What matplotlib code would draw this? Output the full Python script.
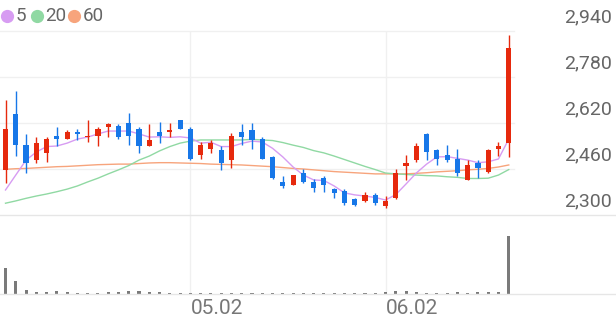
import matplotlib
matplotlib.use("Agg")
import matplotlib.pyplot as plt
import matplotlib.transforms as mtransforms
from matplotlib.lines import Line2D

plt.rcParams['font.family'] = ['Roboto', 'DejaVu Sans']

# daily candles, oldest first
opens = [2455, 2650, 2545, 2490, 2515, 2575, 2565, 2590, 2570, 2575,
         2605, 2610, 2620, 2600, 2540, 2590, 2590, 2630, 2600, 2510,
         2530, 2525, 2490, 2590, 2595, 2565, 2500, 2415, 2405, 2445,
         2415, 2430, 2390, 2385, 2355, 2350, 2370, 2330, 2360, 2470,
         2490, 2580, 2525, 2510, 2495, 2420, 2480, 2450, 2530, 2550]
highs = [2700, 2730, 2580, 2570, 2570, 2605, 2595, 2600, 2630, 2605,
         2620, 2615, 2655, 2605, 2615, 2625, 2620, 2630, 2605, 2555,
         2560, 2540, 2585, 2615, 2620, 2570, 2505, 2435, 2440, 2460,
         2425, 2435, 2395, 2390, 2360, 2380, 2375, 2365, 2460, 2510,
         2550, 2585, 2530, 2545, 2530, 2490, 2490, 2530, 2555, 2925]
lows = [2410, 2505, 2445, 2480, 2485, 2540, 2565, 2560, 2555, 2540,
        2570, 2565, 2545, 2515, 2540, 2550, 2570, 2600, 2490, 2495,
        2515, 2455, 2465, 2545, 2530, 2495, 2425, 2395, 2405, 2410,
        2380, 2380, 2360, 2335, 2330, 2345, 2335, 2325, 2355, 2420,
        2485, 2490, 2475, 2485, 2435, 2420, 2430, 2445, 2505, 2500]
closes = [2600, 2545, 2480, 2550, 2565, 2565, 2590, 2580, 2575, 2600,
          2615, 2570, 2575, 2540, 2560, 2575, 2595, 2600, 2495, 2545,
          2550, 2480, 2575, 2570, 2560, 2495, 2430, 2400, 2440, 2415,
          2395, 2405, 2375, 2340, 2335, 2370, 2340, 2350, 2445, 2480,
          2540, 2520, 2495, 2490, 2445, 2475, 2465, 2525, 2540, 2880]

ma5 = [2387, 2439, 2491, 2519, 2538, 2540, 2550, 2564, 2571, 2582,
       2592, 2592, 2592, 2582, 2571, 2572, 2570, 2572, 2568, 2550,
       2553, 2538, 2538, 2549, 2557, 2554, 2532, 2502, 2467, 2439,
       2422, 2420, 2401, 2377, 2370, 2366, 2361, 2352, 2371, 2408,
       2446, 2477, 2502, 2503, 2497, 2491, 2482, 2485, 2495, 2564]
ma20 = [2341, 2349, 2358, 2366, 2373, 2381, 2390, 2401, 2415, 2428,
        2443, 2457, 2472, 2491, 2505, 2523, 2538, 2550, 2557, 2561,
        2561, 2561, 2561, 2561, 2563, 2561, 2559, 2552, 2543, 2535,
        2524, 2516, 2505, 2493, 2481, 2469, 2458, 2446, 2443, 2441,
        2439, 2437, 2436, 2433, 2431, 2427, 2427, 2428, 2439, 2458]
ma60 = [2459, 2461, 2462, 2464, 2466, 2468, 2469, 2471, 2473, 2475,
        2476, 2477, 2477, 2479, 2481, 2482, 2482, 2481, 2480, 2479,
        2477, 2476, 2475, 2474, 2472, 2470, 2468, 2465, 2462, 2460,
        2457, 2454, 2451, 2449, 2447, 2445, 2443, 2443, 2443, 2443,
        2445, 2447, 2450, 2452, 2454, 2457, 2459, 2462, 2467, 2474]

volumes = [260, 130, 40, 25, 20, 30, 20, 15, 15, 15,
           20, 20, 30, 35, 20, 20, 15, 15, 15, 15,
           15, 15, 15, 15, 15, 15, 15, 15, 15, 15,
           15, 15, 15, 15, 15, 15, 15, 20, 30, 30,
           20, 15, 15, 15, 20, 15, 20, 20, 20, 580]

date_ticks = [18, 37]
date_labels = ['05.02', '06.02']
price_ticks = [2300, 2460, 2620, 2780, 2940]

RED = '#e6290d'
BLUE = '#1777e8'
GRID = '#f0f0f0'
TEXT = '#666666'

W, H = 616, 321
fig = plt.figure(figsize=(W / 100, H / 100), dpi=100)


def px_box(x0, y0, x1, y1):
    # pixel box (top-left origin) -> figure fraction rect
    return [x0 / W, 1 - y1 / H, (x1 - x0) / W, (y1 - y0) / H]


ax = fig.add_axes(px_box(0, 31, 514, 215))
vax = fig.add_axes(px_box(0, 215, 514, 294))
for a in (ax, vax):
    a.set_xlim(-0.536, 49.51)
    a.axis('off')
ax.set_ylim(2300, 2940)
vax.set_ylim(0, max(volumes) * 79 / 58)

x = list(range(len(closes)))

# grid
for v in price_ticks[1:]:
    ax.axhline(v, color=GRID, lw=1, zorder=0, clip_on=False)
for t in date_ticks:
    ax.axvline(t, color=GRID, lw=1, zorder=0)
    vax.axvline(t, color=GRID, lw=1, zorder=0)
for yy in (215, 294):
    fig.add_artist(Line2D([0, 1], [1 - yy / H] * 2, color='#e6e6e6', lw=1))

# moving averages
ax.plot(x, ma60, color='#f7a47c', lw=1.0, zorder=2)
ax.plot(x, ma20, color='#90d9a3', lw=1.0, zorder=2)
ax.plot(x, ma5, color='#d79cf2', lw=1.0, zorder=2)

# candles
colors = [RED if c >= o else BLUE for o, c in zip(opens, closes)]
bottoms = [min(o, c) for o, c in zip(opens, closes)]
heights = [max(abs(c - o), 3) for o, c in zip(opens, closes)]
ax.vlines(x, lows, highs, colors=colors, lw=1.0, zorder=3)
ax.bar(x, heights, bottom=bottoms, width=0.5, color=colors, linewidth=0, zorder=4)

# volume
vax.bar(x, volumes, width=0.3, color='#7a7a7a', linewidth=0)

# price labels on the right, sitting above their grid lines
lab_tr = mtransforms.offset_copy(
    mtransforms.blended_transform_factory(fig.transFigure, ax.transData),
    fig=fig, y=13.5, units='dots')
for v in price_ticks:
    ax.text(612 / W, v, f'{v:,}', transform=lab_tr, ha='right', va='center',
            fontsize=14, color=TEXT, clip_on=False)

# date labels
date_tr = mtransforms.blended_transform_factory(vax.transData, fig.transFigure)
for t, lab in zip(date_ticks, date_labels):
    vax.text(t + 0.05, 1 - 308 / H, lab, transform=date_tr, ha='left', va='center',
             fontsize=15, color='#777777', clip_on=False)

# legend
for px, c, lab in [(7, '#d79cf2', '5'), (37, '#90d9a3', '20'), (74, '#f7a47c', '60')]:
    fig.add_artist(Line2D([px / W], [1 - 16 / H], marker='o', ms=8.5, color=c, lw=0))
    fig.text((px + 8.5) / W, 1 - 16 / H, lab, ha='left', va='center', fontsize=13.5, color=TEXT)

fig.savefig('out.png', dpi=100)
